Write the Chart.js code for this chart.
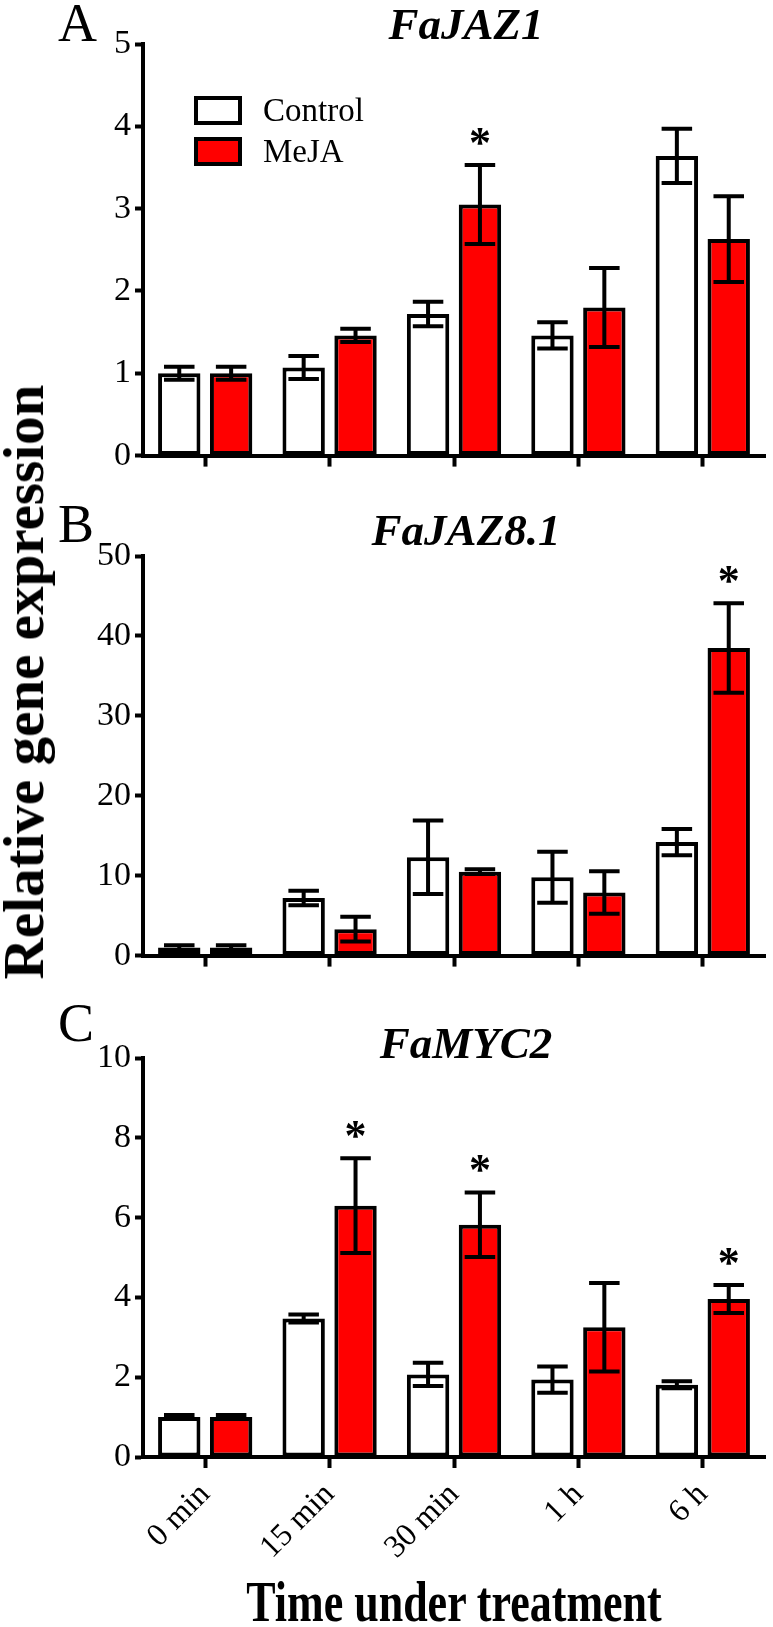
<!DOCTYPE html>
<html>
<head>
<meta charset="utf-8">
<script src="https://cdn.jsdelivr.net/npm/chart.js@4.4.1/dist/chart.umd.min.js"></script>
<style>
  html, body { margin: 0; padding: 0; background: #fff; }
  #page { position: relative; width: 773px; height: 1627px; overflow: hidden; background: #fff; }
  canvas { position: absolute; left: 0; }
  .txt { position: absolute; font-family: 'Liberation Serif', 'Times New Roman', serif; color: #000; line-height: 1; white-space: nowrap; }
  .letter { font-size: 54px; }
  .gene { font-size: 45px; font-weight: bold; font-style: italic; width: 622px; left: 155px; text-align: center; }
  .legend-box { position: absolute; width: 40px; height: 21px; border: 4px solid #000; }
  .legend-text { font-size: 33px; }
</style>
</head>
<body>
<div id="page">
  <canvas id="chartA" width="773" height="480" style="top:0px"></canvas>
  <canvas id="chartB" width="773" height="500" style="top:480px"></canvas>
  <canvas id="chartC" width="773" height="560" style="top:1000px"></canvas>

  <div class="txt letter" style="left:58px; top:-4px">A</div>
  <div class="txt letter" style="left:58px; top:497px">B</div>
  <div class="txt letter" style="left:58px; top:996px">C</div>

  <div class="txt gene" id="titleA" style="top:2px"></div>
  <div class="txt gene" id="titleB" style="top:508px"></div>
  <div class="txt gene" id="titleC" style="top:1021px"></div>

  <div id="legend"></div>

  <div class="txt" id="ylabel" style="font-size:56px; font-weight:bold; left:24px; top:682px;"></div>
  <div class="txt" id="xlabel" style="font-size:44px; font-weight:bold; left:143px; width:622px; text-align:center; top:1574px; transform-origin:50% 0; transform:scaleY(1.3);"></div>
</div>

<script>
// time points and series
const timeLabels = ['0 min', '15 min', '30 min', '1 h', '6 h'];
const seriesNames = ['Control', 'MeJA'];
const seriesColors = ['#ffffff', '#ff0000'];

// A - FaJAZ1
const jaz1Control = [1.00, 1.07, 1.72, 1.46, 3.64];
const jaz1ControlErr = [0.08, 0.14, 0.15, 0.16, 0.33];
const jaz1Meja = [1.00, 1.46, 3.05, 1.80, 2.63];
const jaz1MejaErr = [0.08, 0.08, 0.48, 0.48, 0.52];
const jaz1Sig = [false, false, true, false, false];
const jaz1Ticks = [0, 5, 1];

// B - FaJAZ8.1
const jaz81Control = [1.0, 7.2, 12.3, 9.8, 14.2];
const jaz81ControlErr = [0.3, 0.9, 4.6, 3.2, 1.65];
const jaz81Meja = [1.0, 3.3, 10.5, 7.9, 38.5];
const jaz81MejaErr = [0.3, 1.55, 0.3, 2.65, 5.6];
const jaz81Sig = [false, false, false, false, true];
const jaz81Ticks = [0, 50, 10];

// C - FaMYC2
const myc2Control = [1.0, 3.47, 2.07, 1.94, 1.81];
const myc2ControlErr = [0.05, 0.1, 0.29, 0.33, 0.09];
const myc2Meja = [1.0, 6.3, 5.82, 3.25, 3.96];
const myc2MejaErr = [0.05, 1.19, 0.81, 1.11, 0.35];
const myc2Sig = [false, true, true, false, true];
const myc2Ticks = [0, 10, 2];

const FONT = "'Liberation Serif', 'Times New Roman', serif";
Chart.defaults.font.family = FONT;
Chart.defaults.color = '#000';

// error bars + asterisks, drawn from the data through the y scale
const errorBars = {
  id: 'errorBars',
  afterDatasetsDraw(chart) {
    const ctx = chart.ctx;
    const yScale = chart.scales.y;
    chart.data.datasets.forEach((ds, i) => {
      const meta = chart.getDatasetMeta(i);
      meta.data.forEach((bar, j) => {
        const v = ds.data[j], e = ds.errors[j];
        const top = yScale.getPixelForValue(v + e);
        const bot = yScale.getPixelForValue(v - e);
        const half = bar.width * 0.36;
        ctx.save();
        ctx.strokeStyle = '#000';
        ctx.lineWidth = 4;
        ctx.beginPath();
        ctx.moveTo(bar.x, top); ctx.lineTo(bar.x, bot);
        ctx.moveTo(bar.x - half, top); ctx.lineTo(bar.x + half, top);
        ctx.moveTo(bar.x - half, bot); ctx.lineTo(bar.x + half, bot);
        ctx.stroke();
        if (ds.sig && ds.sig[j]) {
          ctx.fillStyle = '#000';
          ctx.font = 'bold 44px ' + FONT;
          ctx.textAlign = 'center';
          ctx.textBaseline = 'alphabetic';
          ctx.fillText('*', bar.x, top - 8);
        }
        ctx.restore();
      });
    });
  }
};

function makePanel(id, control, controlErr, meja, mejaErr, sig, ticks, padTop, xHeight, showLabels) {
  return new Chart(document.getElementById(id), {
    type: 'bar',
    data: {
      labels: timeLabels,
      datasets: [
        { label: seriesNames[0], data: control, errors: controlErr, backgroundColor: seriesColors[0],
          borderColor: '#000', borderWidth: 4, borderSkipped: false },
        { label: seriesNames[1], data: meja, errors: mejaErr, sig: sig, backgroundColor: seriesColors[1],
          borderColor: '#000', borderWidth: 4, borderSkipped: false }
      ]
    },
    options: {
      responsive: false,
      animation: false,
      devicePixelRatio: 1,
      categoryPercentage: 0.834,
      barPercentage: 0.817,
      layout: { padding: { top: padTop, right: 8, left: 0, bottom: 0 } },
      plugins: { legend: { display: false }, tooltip: { enabled: false }, title: { display: false } },
      scales: {
        x: {
          grid: { offset: false, drawOnChartArea: false, drawTicks: true, tickLength: 11, tickWidth: 4, tickColor: '#000' },
          border: { display: true, color: '#000', width: 4 },
          ticks: { display: showLabels, minRotation: 45, maxRotation: 45, padding: 8, font: { size: 32 } },
          afterFit: s => { s.height = xHeight; }
        },
        y: {
          min: ticks[0], max: ticks[1],
          grid: { drawOnChartArea: false, drawTicks: true, tickLength: 8, tickWidth: 4, tickColor: '#000' },
          border: { display: true, color: '#000', width: 4 },
          ticks: { stepSize: ticks[2], padding: 4, font: { size: 34 } },
          afterFit: s => { s.width = 143; }
        }
      }
    },
    plugins: [errorBars]
  });
}

makePanel('chartA', jaz1Control, jaz1ControlErr, jaz1Meja, jaz1MejaErr, jaz1Sig, jaz1Ticks, 44, 24, false);
makePanel('chartB', jaz81Control, jaz81ControlErr, jaz81Meja, jaz81MejaErr, jaz81Sig, jaz81Ticks, 76, 22, false);
makePanel('chartC', myc2Control, myc2ControlErr, myc2Meja, myc2MejaErr, myc2Sig, myc2Ticks, 58, 103, true);

document.getElementById('titleA').textContent = 'FaJAZ1';
document.getElementById('titleB').textContent = 'FaJAZ8.1';
document.getElementById('titleC').textContent = 'FaMYC2';
document.getElementById('xlabel').textContent = 'Time under treatment';

// legend built from the series names
const legend = document.getElementById('legend');
seriesNames.forEach((name, i) => {
  const box = document.createElement('div');
  box.className = 'legend-box';
  box.style.left = '194px';
  box.style.top = (96 + i * 41) + 'px';
  box.style.background = seriesColors[i];
  legend.appendChild(box);
  const t = document.createElement('div');
  t.className = 'txt legend-text';
  t.style.left = '263px';
  t.style.top = (94 + i * 41) + 'px';
  t.textContent = name;
  legend.appendChild(t);
});

// rotated y label
const yl = document.getElementById('ylabel');
yl.textContent = 'Relative gene expression';
const mctx = document.createElement('canvas').getContext('2d');
mctx.font = 'bold 56px ' + FONT;
const k = 595 / mctx.measureText(yl.textContent).width;
yl.style.transform = 'translate(-50%, -50%) rotate(-90deg) scaleX(' + k.toFixed(3) + ')';
</script>
</body>
</html>
